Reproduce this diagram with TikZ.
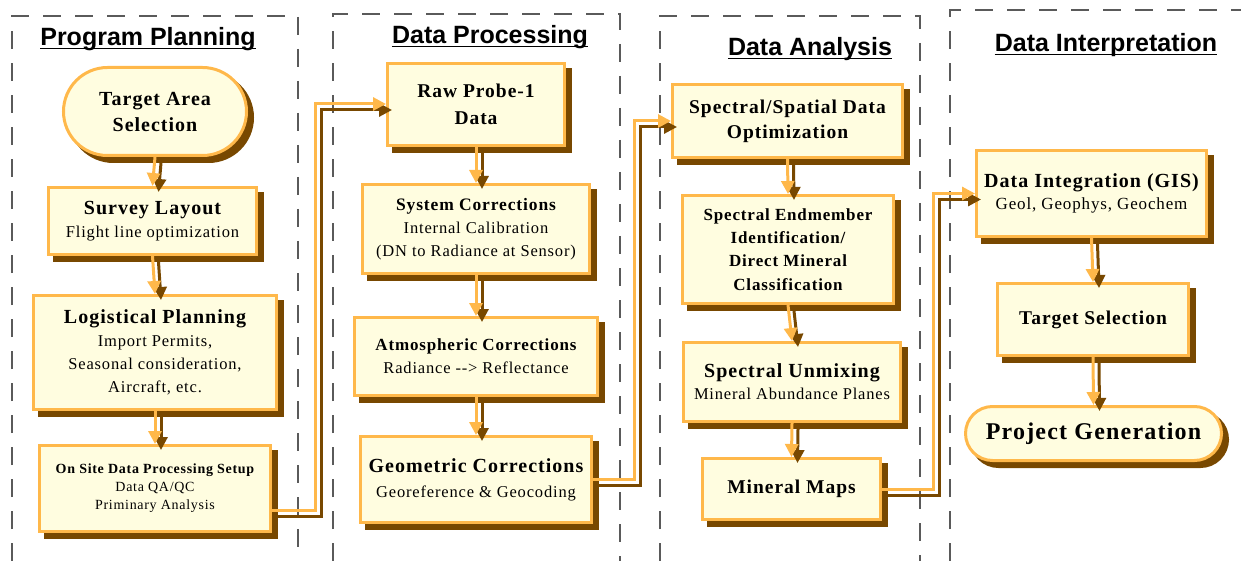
\documentclass[tikz,border=0pt]{standalone}
\usepackage{fontspec}
\setmainfont{Liberation Serif}
\newfontfamily\boxfont[LetterSpace=5.0]{Liberation Serif}
\newfontfamily\titlefont{Liberation Sans}
\usetikzlibrary{arrows.meta,shapes.misc,shadows}

\definecolor{boxorange}{RGB}{255,184,74}
\definecolor{boxfill}{RGB}{255,253,224}
\definecolor{shadowbrown}{RGB}{120,72,0}
\definecolor{lanegray}{RGB}{90,90,90}

% bold first line of a box
\newcommand{\heading}[2]{{\fontsize{#1}{#1}\selectfont\bfseries #2}}

\tikzset{
  stepbox/.style={rectangle, draw=boxorange, line width=3pt, fill=boxfill,
    align=center, inner sep=2pt, font=\boxfont\fontsize{16.5}{23}\selectfont,
    general shadow={fill=shadowbrown, draw=shadowbrown, shadow xshift=6pt, shadow yshift=-6pt}},
  endbox/.style={stepbox, rounded rectangle},
  flow/.style={draw=boxorange, line width=3pt, -{Triangle[length=13pt,width=13pt]},
    preaction={draw=shadowbrown, line width=3pt, -{Triangle[length=13pt,width=13pt]},
      transform canvas={xshift=6pt,yshift=-6pt}}},
  lane/.style={draw=lanegray, line width=1.2pt, dash pattern=on 18pt off 14pt},
  lanetitle/.style={font=\titlefont\bfseries\fontsize{25}{30}\selectfont, inner sep=0pt, anchor=base},
  titleline/.style={draw=black, line width=1.8pt}
}

\begin{document}
\begin{tikzpicture}[x=1pt, y=-1pt]
\useasboundingbox (0,0) rectangle (1241,561);

% lanes
\draw[lane] (12,561) -- (12,16) -- (298,16) -- (298,561);
\draw[lane] (333,561) -- (333,14) -- (620,14) -- (620,561);
\draw[lane] (660,561) -- (660,16) -- (920,16) -- (920,561);
\draw[lane] (950,561) -- (950,10) -- (1241,10);

\node[lanetitle] (t1) at (148,46) {Program Planning};
\node[lanetitle] (t2) at (490,44) {Data Processing};
\node[lanetitle] (t3) at (810,56) {Data Analysis};
\node[lanetitle] (t4) at (1106,52) {Data Interpretation};
\draw[titleline] ([yshift=-2.5pt]t1.base west) -- ([yshift=-2.5pt]t1.base east);
\draw[titleline] ([yshift=-2.5pt]t2.base west) -- ([yshift=-2.5pt]t2.base east);
\draw[titleline] ([yshift=-2.5pt]t3.base west) -- ([yshift=-2.5pt]t3.base east);
\draw[titleline] ([yshift=-2.5pt]t4.base west) -- ([yshift=-2.5pt]t4.base east);

% program planning
\node[endbox, minimum width=187pt, minimum height=88pt,
  font=\boxfont\bfseries\fontsize{20}{26}\selectfont] (area) at (155,111.5)
  {Target Area\\Selection};
\node[stepbox, minimum width=208pt, minimum height=67pt] (survey) at (152.5,221)
  {\heading{20}{Survey Layout}\\Flight line optimization};
\node[stepbox, minimum width=243pt, minimum height=114pt] (logist) at (155,352.5)
  {\heading{20}{Logistical Planning}\\Import Permits,\\Seasonal consideration,\\Aircraft, etc.};
\node[stepbox, minimum width=231pt, minimum height=86pt,
  font=\boxfont\fontsize{14}{18}\selectfont] (onsite) at (155,488.5)
  {\heading{14}{On Site Data Processing Setup}\\Data QA/QC\\Priminary Analysis};

% data processing
\node[stepbox, minimum width=177pt, minimum height=82pt,
  font=\boxfont\bfseries\fontsize{19.5}{27}\selectfont] (raw) at (476,104.5)
  {Raw Probe-1\\Data};
\node[stepbox, minimum width=227pt, minimum height=89pt] (syscor) at (476,229)
  {\heading{17.5}{System Corrections}\\Internal Calibration\\(DN to Radiance at Sensor)};
\node[stepbox, minimum width=243pt, minimum height=78pt] (atmos) at (476,356.5)
  {\heading{17}{Atmospheric Corrections}\\Radiance -{}-{}> Reflectance};
\node[stepbox, minimum width=231pt, minimum height=86pt,
  font=\boxfont\fontsize{16.5}{25}\selectfont] (geomet) at (476,479.5)
  {\heading{20}{Geometric Corrections}\\Georeference \& Geocoding};

% data analysis
\node[stepbox, minimum width=230pt, minimum height=73pt,
  font=\boxfont\bfseries\fontsize{19.5}{25}\selectfont] (optim) at (787.5,121)
  {Spectral/Spatial Data\\Optimization};
\node[stepbox, minimum width=211pt, minimum height=108pt,
  font=\boxfont\bfseries\fontsize{17}{23.3}\selectfont] (endmem) at (788,249.5)
  {Spectral Endmember\\Identification/\\Direct Mineral\\Classification};
\node[stepbox, minimum width=217pt, minimum height=79pt,
  font=\boxfont\fontsize{16.5}{22}\selectfont] (unmix) at (792,382)
  {\heading{20}{Spectral Unmixing}\\Mineral Abundance Planes};
\node[stepbox, minimum width=178pt, minimum height=61pt,
  font=\boxfont\bfseries\fontsize{19.5}{24}\selectfont] (maps) at (791.5,489)
  {Mineral Maps};

% data interpretation
\node[stepbox, minimum width=230pt, minimum height=86pt,
  font=\boxfont\fontsize{17}{22}\selectfont] (integ) at (1091.5,193.5)
  {\heading{20}{Data Integration (GIS)}\\Geol, Geophys, Geochem};
\node[stepbox, minimum width=191pt, minimum height=72pt,
  font=\boxfont\bfseries\fontsize{19.5}{24}\selectfont] (tsel) at (1093,319.5)
  {Target Selection};
\node[endbox, minimum width=260pt, minimum height=54pt,
  font=\boxfont\bfseries\fontsize{24}{28}\selectfont] (projgen) at (1093.5,433.5)
  {Project Generation};

% flows
\draw[flow] (area.south) -- (survey.north);
\draw[flow] (survey.south) -- (logist.north);
\draw[flow] (logist.south) -- (onsite.north);
\draw[flow] (raw.south) -- (syscor.north);
\draw[flow] (syscor.south) -- (atmos.north);
\draw[flow] (atmos.south) -- (geomet.north);
\draw[flow] (optim.south) -- (endmem.north);
\draw[flow] (endmem.south) -- (unmix.north);
\draw[flow] (unmix.south) -- (maps.north);
\draw[flow] (integ.south) -- (tsel.north);
\draw[flow] (tsel.south) -- (projgen.north);

\coordinate (bend1) at (315,104);
\coordinate (bend2) at (634,121);
\coordinate (bend3) at (933,193.5);
\draw[flow] ([yshift=-21.5pt]onsite.east) -| (bend1) -- (bend1 -| raw.west);
\draw[flow] (geomet.east) -| (bend2) -- (bend2 -| optim.west);
\draw[flow] (maps.east) -| (bend3) -- (bend3 -| integ.west);
\end{tikzpicture}
\end{document}
